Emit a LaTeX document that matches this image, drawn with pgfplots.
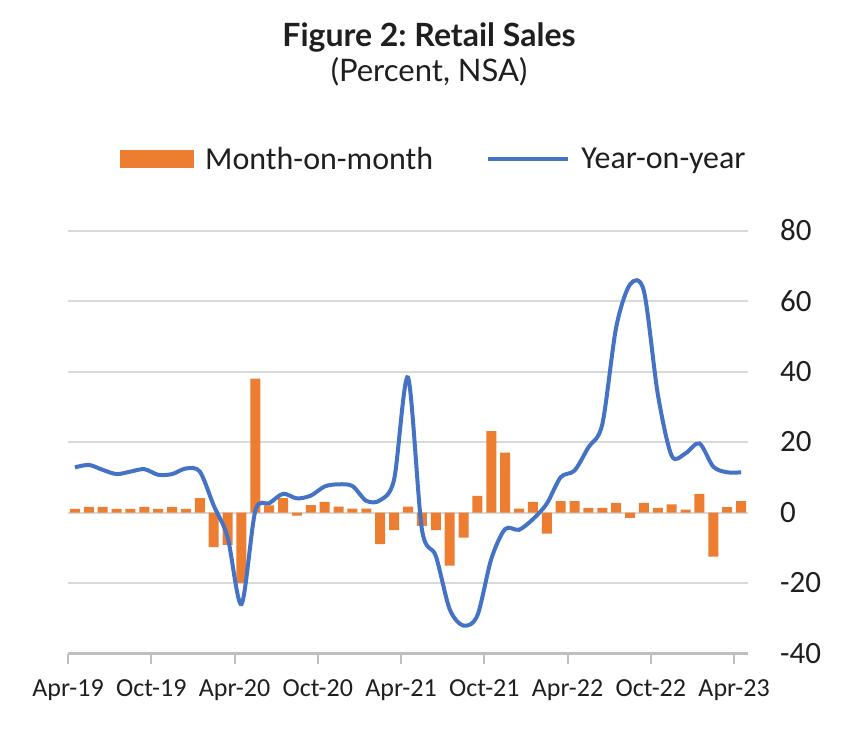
\documentclass[border=0pt]{standalone}
\usepackage{pgfplots}
\usepackage{pgfplotstable}
\pgfplotsset{compat=1.18}
\usepackage{fontspec}
\setmainfont{Carlito}
\newfontfamily\lato{Lato}
\definecolor{mom}{HTML}{ED7D31}
\definecolor{yoy}{HTML}{4472C4}
\definecolor{gridc}{HTML}{D9D9D9}
\definecolor{axc}{HTML}{BFBFBF}
\definecolor{txt}{HTML}{1F1F1F}
\frenchspacing

\pgfplotstableread{
x mom yoy
0 1.0 12.8
1 1.6 13.5
2 1.6 12.1
3 1.0 10.9
4 1.0 11.6
5 1.6 12.3
6 1.0 10.7
7 1.6 10.9
8 1.0 12.5
9 4.1 11.6
10 -9.8 2.0
11 -9.2 -7.0
12 -20.0 -26.0
13 38.0 0.5
14 2.0 2.6
15 4.1 5.3
16 -0.9 4.0
17 2.1 4.8
18 3.0 7.4
19 1.7 8.0
20 1.1 7.5
21 1.1 3.3
22 -9.0 3.5
23 -5.0 9.4
24 1.7 38.3
25 -3.8 -4.7
26 -5.0 -12.3
27 -15.1 -27.4
28 -7.1 -32.1
29 4.7 -29.2
30 23.1 -13.2
31 17.0 -4.7
32 1.1 -4.9
33 3.0 -1.9
34 -6.0 2.5
35 3.2 10.0
36 3.2 11.9
37 1.3 18.5
38 1.3 25.0
39 2.7 52.5
40 -1.5 64.7
41 2.7 62.8
42 1.3 33.6
43 2.3 16.1
44 0.8 16.8
45 5.3 19.6
46 -12.5 13.0
47 1.5 11.4
48 3.2 11.4
}\data

\begin{document}
\begin{tikzpicture}
\useasboundingbox (0pt,0pt) rectangle (850pt,745pt);
\node[anchor=base, text=txt, font=\lato\bfseries\fontsize{32}{38}\selectfont] at (429pt,698.3pt) {Figure 2: Retail Sales};
\node[anchor=base, text=txt, font=\lato\fontsize{31}{37}\selectfont] at (429pt,663.3pt) {(Percent, NSA)};
\begin{axis}[
  at={(68pt,91.5pt)}, anchor=south west,
  scale only axis, width=680pt, height=423pt,
  xmin=-0.5, xmax=48.5, ymin=-40, ymax=80,
  ytick={-40,-20,0,20,40,60,80},
  yticklabels={-40,-20,0,20,40,60,80},
  xtick={-0.5,5.5,...,47.5},
  xticklabels={Apr-19,Oct-19,Apr-20,Oct-20,Apr-21,Oct-21,Apr-22,Oct-22,Apr-23},
  axis x line*=bottom, axis y line*=right,
  y axis line style={draw=none},
  x axis line style={draw=axc, line width=2.5pt},
  ymajorgrids, grid style={draw=gridc, line width=2pt},
  xtick style={draw=axc, line width=2pt},
  ytick style={draw=none},
  tick align=outside, major tick length=10pt,
  x tick label style={font=\fontsize{26}{30}\selectfont, text=txt, yshift=-13pt},
  y tick label style={font=\fontsize{31}{36}\selectfont, text=txt, anchor=west, inner sep=0pt, xshift=22pt},
  legend columns=2,
  legend style={at={(0.0765,1.169)}, anchor=west, draw=none, fill=none, inner sep=0pt,
    font=\fontsize{32}{38}\selectfont, text=txt,
    nodes={inner sep=0pt},
    /tikz/every odd column/.append style={column sep=11pt},
    /tikz/every even column/.append style={column sep=53pt}},
  clip=false,
]
\addplot[ybar, bar width=10pt, bar shift=0pt, fill=mom, draw=none,
  legend image code/.code={\fill[mom] (0pt,-9pt) rectangle (74pt,9pt);}]
  table[x=x,y=mom]{\data};
\addlegendentry{Month-on-month}
\addplot[yoy, line width=4pt, smooth, no markers,
  legend image code/.code={\draw[yoy, line width=4pt] (0pt,0pt) -- (80pt,0pt);}]
  table[x=x,y=yoy]{\data};
\addlegendentry{Year-on-year}
\end{axis}
\end{tikzpicture}
\end{document}
